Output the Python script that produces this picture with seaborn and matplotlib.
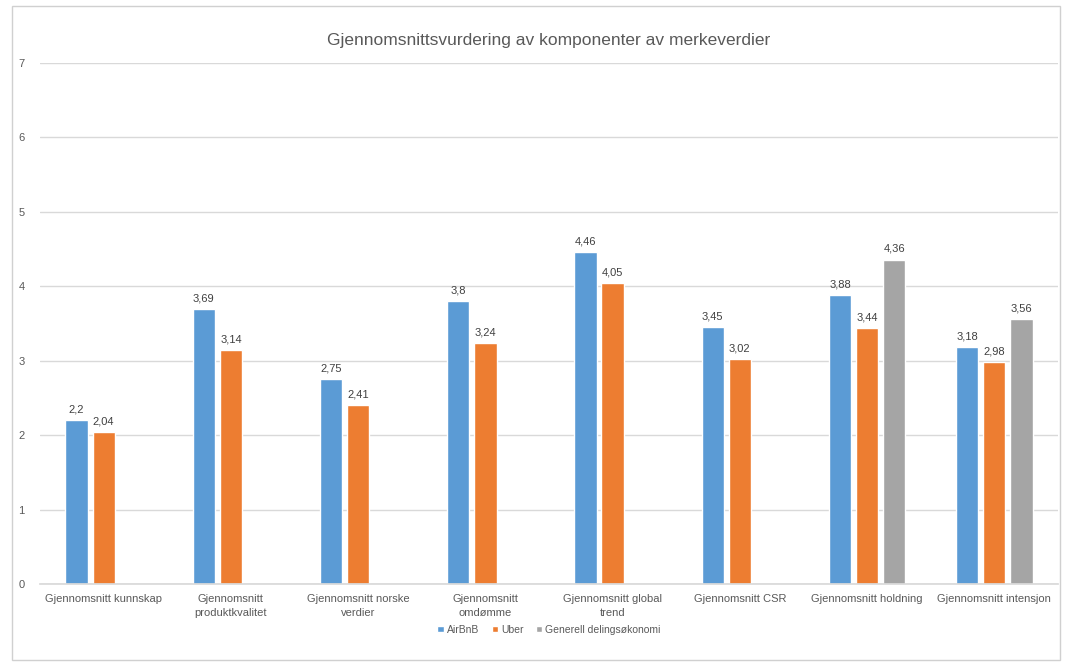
import numpy as np
import pandas as pd
import matplotlib
matplotlib.use("Agg")
import matplotlib.pyplot as plt
import seaborn as sns
from matplotlib.patches import Rectangle

# Data
categories = ["Gjennomsnitt kunnskap", "Gjennomsnitt\nproduktkvalitet", "Gjennomsnitt norske\nverdier",
              "Gjennomsnitt\nomdømme", "Gjennomsnitt global\ntrend", "Gjennomsnitt CSR",
              "Gjennomsnitt holdning", "Gjennomsnitt intensjon"]
series = ["AirBnB", "Uber", "Generell delingsøkonomi"]
airbnb = [2.2, 3.69, 2.75, 3.8, 4.46, 3.45, 3.88, 3.18]
uber = [2.04, 3.14, 2.41, 3.24, 4.05, 3.02, 3.44, 2.98]
generell = [np.nan, np.nan, np.nan, np.nan, np.nan, np.nan, 4.36, 3.56]
colors = ["#5B9BD5", "#ED7D31", "#A5A5A5"]

df = pd.DataFrame({
    "kategori": categories * 3,
    "serie": [s for s in series for _ in categories],
    "verdi": airbnb + uber + generell,
})

sns.set_theme(style="white")
plt.rcParams["font.family"] = ["Liberation Sans", "DejaVu Sans"]

fig = plt.figure(figsize=(10.73, 6.64), dpi=100)
ax = fig.add_axes([0.0373, 0.1205, 0.9487, 0.7845])

sns.barplot(data=df.dropna(), x="kategori", y="verdi", hue="serie", hue_order=series,
            order=categories, palette=colors, width=0.64, gap=0.18, ax=ax,
            errorbar=None, saturation=1, legend=True)

# data labels
for cont in ax.containers:
    labels = [f"{v:g}".replace(".", ",") for v in cont.datavalues]
    ax.bar_label(cont, labels=labels, padding=4, fontsize=8, color="#404040")

ax.set_ylim(0, 7)
ax.set_yticks(range(0, 8))
ax.yaxis.grid(True, color="#D9D9D9", linewidth=1)
ax.set_axisbelow(True)
for s in ["top", "right", "left"]:
    ax.spines[s].set_visible(False)
ax.spines["bottom"].set_color("#D9D9D9")
ax.set_xticks(range(len(categories)))
ax.set_xticklabels(categories, linespacing=1.5)
ax.tick_params(axis="both", length=0, labelsize=8, labelcolor="#595959")
ax.tick_params(axis="y", pad=11)
ax.tick_params(axis="x", pad=7)
ax.set_xlabel("")
ax.set_ylabel("")
ax.set_xlim(-0.5, len(categories) - 0.5)

ax.set_title("Gjennomsnittsvurdering av komponenter av merkeverdier", fontsize=12.5,
             color="#595959", pad=13)

ax.legend(loc="lower center", bbox_to_anchor=(0.5, -0.115), ncol=3, frameon=False,
          fontsize=7.5, labelcolor="#595959", handlelength=0.6, handleheight=0.6,
          handletextpad=0.3, columnspacing=1.2)

# chart border
fig.patches.append(Rectangle((0.011, 0.006), 0.977, 0.985, transform=fig.transFigure,
                             fill=False, edgecolor="#D0D0D0", linewidth=1))

fig.savefig("out.png", dpi=100)
